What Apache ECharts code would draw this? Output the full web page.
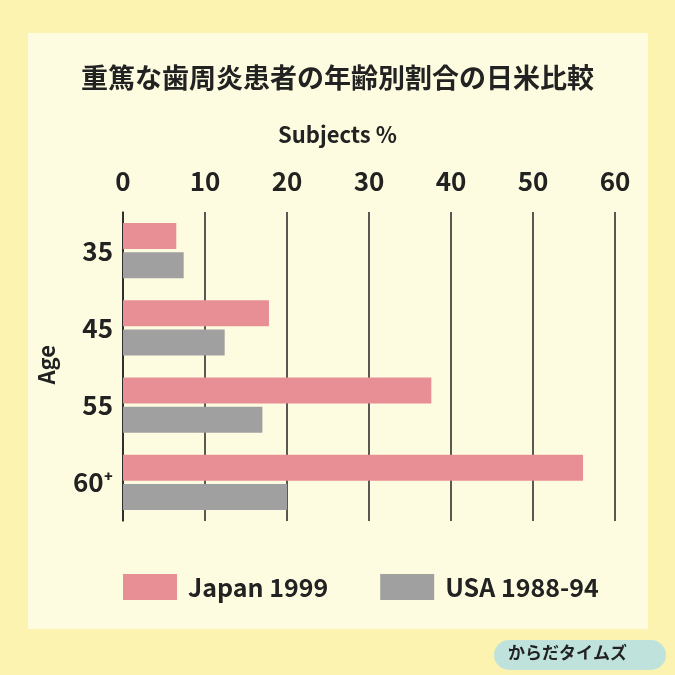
<!DOCTYPE html>
<html><head><meta charset="utf-8">
<script src="https://cdn.jsdelivr.net/npm/echarts@6/dist/echarts.min.js"></script>
<style>html,body{margin:0;background:#fdf3b0;}#c{width:675px;height:675px;}</style>
</head><body><div id="c"></div>
<script>
var ages = ['35', '45', '55', '60⁺'];
var japan = [6.5, 17.8, 37.6, 56.1];
var usa = [7.4, 12.4, 17.0, 20.0];
var ticks = [0, 10, 20, 30, 40, 50, 60];

var chart = echarts.init(document.getElementById('c'));
var font = '"Noto Sans CJK JP", "Noto Sans", sans-serif';
chart.setOption({
  backgroundColor: '#fdf3b0',
  textStyle: { fontFamily: font },
  graphic: [
    { type: 'rect', shape: { x: 28, y: 33, width: 620, height: 596 }, style: { fill: '#fefce0' }, z: -10 },
    { type: 'text', left: 'center', top: 64, style: { text: '重篤な歯周炎患者の年齢別割合の日米比較', font: 'bold 27px ' + font, fill: '#222' } },
    { type: 'text', left: 'center', top: 124, style: { text: 'Subjects %', font: 'bold 22px ' + font, fill: '#222' } },
    { type: 'text', left: 36, top: 345, rotation: Math.PI / 2, style: { text: 'Age', font: 'bold 22px ' + font, fill: '#222' } },
    { type: 'rect', shape: { x: 494, y: 640, width: 172, height: 30, r: 15 }, style: { fill: '#bfe3dc' } },
    { type: 'text', left: 508, top: 644, style: { text: 'からだタイムズ', font: 'bold 17px ' + font, fill: '#222' } }
  ],
  legend: {
    bottom: 70, left: 118, itemGap: 52, itemWidth: 54, itemHeight: 26,
    icon: 'rect',
    textStyle: { fontSize: 25, fontWeight: 'bold', color: '#222', padding: [0, 0, 0, 6] },
    data: ['Japan 1999', 'USA 1988-94']
  },
  grid: { left: 123, right: 60, top: 212, bottom: 154 },
  xAxis: {
    type: 'value', position: 'top', min: 0, max: 60, interval: 10,
    axisLine: { show: false }, axisTick: { show: false },
    axisLabel: { fontSize: 26, fontWeight: 'bold', color: '#222', margin: 18,
      formatter: function (v) { return ticks.indexOf(v) >= 0 ? String(v) : ''; } },
    splitLine: { lineStyle: { color: '#222', width: 1.5 } }
  },
  yAxis: {
    type: 'category', data: ages, inverse: true,
    axisLine: { lineStyle: { color: '#222', width: 1.5 } }, axisTick: { show: false },
    axisLabel: { fontSize: 26, fontWeight: 'bold', color: '#222', margin: 10 }
  },
  series: [
    { name: 'Japan 1999', type: 'bar', data: japan, itemStyle: { color: '#e88f95' }, barWidth: 26, barGap: '12%' },
    { name: 'USA 1988-94', type: 'bar', data: usa, itemStyle: { color: '#a0a0a0' }, barWidth: 26 }
  ]
});
</script></body></html>
